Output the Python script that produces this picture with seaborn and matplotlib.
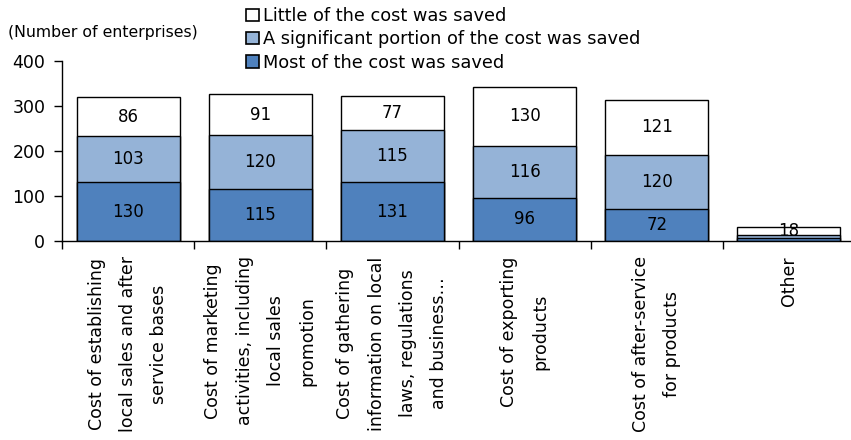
import numpy as np
import pandas as pd
import matplotlib
matplotlib.use("Agg")
import matplotlib.pyplot as plt
import seaborn as sns

categories = [
    "Cost of establishing\nlocal sales and after\nservice bases",
    "Cost of marketing\nactivities, including\nlocal sales\npromotion",
    "Cost of gathering\ninformation on local\nlaws, regulations\nand business\u2026",
    "Cost of exporting\nproducts",
    "Cost of after-service\nfor products",
    "Other",
]
most_saved = [130, 115, 131, 96, 72, 6]
significant_saved = [103, 120, 115, 116, 120, 8]
little_saved = [86, 91, 77, 130, 121, 18]
# the two lower segments of "Other" are too thin to carry a number
labelled_lower = [True, True, True, True, True, False]

series_names = [
    "Most of the cost was saved",
    "A significant portion of the cost was saved",
    "Little of the cost was saved",
]
colors = ["#4F81BD", "#95B3D7", "#FFFFFF"]
yticks = [0, 100, 200, 300, 400]

sns.set_theme(style="white")
plt.rcParams["font.family"] = ["DejaVu Sans"]
plt.rcParams["text.color"] = "black"
plt.rcParams["xtick.color"] = "black"
plt.rcParams["ytick.color"] = "black"
FS = 12.5

fig = plt.figure(figsize=(8.51, 4.40), dpi=100)
ax = fig.add_axes([62 / 851, 1 - 241 / 440, 793 / 851, 180 / 440])

df = pd.DataFrame({
    "category": categories,
    "most": most_saved,
    "significant": significant_saved,
    "little": little_saved,
})
df["lower"] = df["most"]
df["middle"] = df["most"] + df["significant"]
df["total"] = df["middle"] + df["little"]

# stacked bars: draw cumulative heights from the tallest down
for col, color in [("total", colors[2]), ("middle", colors[1]), ("lower", colors[0])]:
    sns.barplot(data=df, x="category", y=col, color=color, ax=ax,
                width=0.78, edgecolor="black", linewidth=1.0,
                saturation=1, errorbar=None)

x = np.arange(len(categories))
for i in range(len(categories)):
    segs = [(df["most"][i], 0), (df["significant"][i], df["lower"][i]),
            (df["little"][i], df["middle"][i])]
    for k, (v, b) in enumerate(segs):
        if k == 2 or labelled_lower[i]:
            ax.text(x[i], b + v / 2, f"{v}", ha="center", va="center",
                    fontsize=12, color="black", zorder=5)

ax.set_xlim(-0.5, len(categories) - 0.5)
ax.set_ylim(0, 400)
ax.set_yticks(yticks)
ax.set_yticklabels([str(t) for t in yticks], fontsize=FS)
ax.set_xticks(x)
ax.set_xticklabels(categories, rotation=90, fontsize=FS, ha="center",
                   va="top", multialignment="center", linespacing=1.95)
ax.set_xticks(np.arange(-0.5, len(categories) - 0.4, 1), minor=True)
ax.tick_params(axis="x", which="major", length=0, pad=11)
ax.tick_params(axis="x", which="minor", length=5.5, width=1, color="black",
               direction="out", bottom=True)
ax.tick_params(axis="y", length=6, width=1, color="black", direction="out",
               left=True, pad=6)
ax.set_xlabel("")
ax.set_ylabel("")
for s in ["top", "right"]:
    ax.spines[s].set_visible(False)
for s in ["left", "bottom"]:
    ax.spines[s].set_color("black")
    ax.spines[s].set_linewidth(1.0)
ax.grid(False)

fig.text(8 / 851, 1 - 33 / 440, "(Number of enterprises)", fontsize=11.3,
         ha="left", va="center")

handles = [plt.Rectangle((0, 0), 1, 1, facecolor=c, edgecolor="black",
                         linewidth=1.2) for c in colors]
fig.legend(handles=handles[::-1], labels=series_names[::-1],
           loc="upper left", bbox_to_anchor=(234 / 851, 1.012),
           frameon=False, fontsize=12.8, handlelength=0.7,
           handleheight=0.7, handletextpad=0.25, labelspacing=0.3,
           borderpad=0.2)

fig.savefig("out.png", dpi=100)
